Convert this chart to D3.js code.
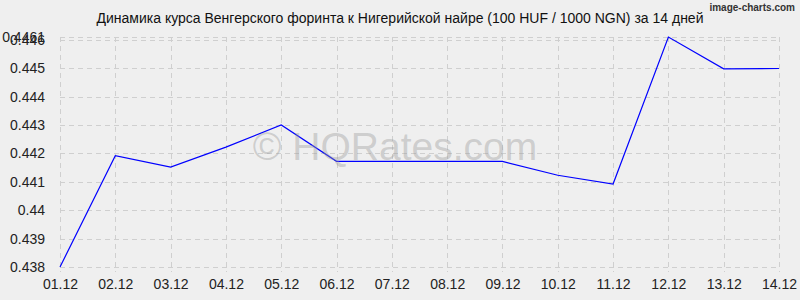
<!DOCTYPE html>
<html>
<head>
<meta charset="utf-8">
<script src="https://cdn.jsdelivr.net/npm/d3@7"></script>
<style>
  body { margin: 0; background: #efefef; }
  text { font-family: "Liberation Sans", Arial, sans-serif; }
</style>
</head>
<body>
<div id="chart"></div>
<script>
var width = 800,
    height = 300;

var dates = ["01.12", "02.12", "03.12", "04.12", "05.12", "06.12", "07.12",
             "08.12", "09.12", "10.12", "11.12", "12.12", "13.12", "14.12"];
var rates = [0.4380, 0.44192, 0.44152, 0.44222, 0.4430, 0.44172, 0.44172,
             0.44172, 0.44172, 0.44123, 0.44092, 0.4461, 0.44498, 0.44499];
var yTicks = [0.438, 0.439, 0.44, 0.441, 0.442, 0.443, 0.444, 0.445, 0.446, 0.4461];

var margin = {top: 37, right: 21, bottom: 33, left: 60};

var svg = d3.select("#chart").append("svg")
    .attr("width", width)
    .attr("height", height);

svg.append("rect")
    .attr("width", width)
    .attr("height", height)
    .attr("fill", "#efefef");

var x = d3.scalePoint()
    .domain(dates)
    .range([margin.left, width - margin.right]);

var y = d3.scaleLinear()
    .domain([0.438, 0.4461])
    .range([height - margin.bottom, margin.top]);

// grid
var grid = svg.append("g").attr("class", "grid");

grid.selectAll("line.h")
    .data(yTicks)
    .enter()
    .append("line")
    .attr("x1", margin.left)
    .attr("x2", width - margin.right)
    .attr("y1", function(d) { return Math.round(y(d)) + 0.5; })
    .attr("y2", function(d) { return Math.round(y(d)) + 0.5; })
    .attr("stroke", "#cfcfcf")
    .attr("stroke-dasharray", "5,4");

grid.selectAll("line.v")
    .data(dates)
    .enter()
    .append("line")
    .attr("x1", function(d) { return Math.round(x(d)) + 0.5; })
    .attr("x2", function(d) { return Math.round(x(d)) + 0.5; })
    .attr("y1", margin.top)
    .attr("y2", height - margin.bottom + 5)
    .attr("stroke", "#cfcfcf")
    .attr("stroke-dasharray", "5,4");

// axes
var yAxis = svg.append("g")
    .attr("transform", "translate(" + (margin.left - 12) + ",0)")
    .call(d3.axisLeft(y).tickValues(yTicks).tickSize(0).tickFormat(function(d) { return String(+d.toFixed(4)); }));
yAxis.select(".domain").remove();
yAxis.selectAll("text")
    .attr("font-size", 14)
    .attr("fill", "#222")
    .attr("font-family", "'Liberation Sans', Arial, sans-serif");

var xAxis = svg.append("g")
    .attr("transform", "translate(0," + (height - margin.bottom + 9) + ")")
    .call(d3.axisBottom(x).tickSize(0));
xAxis.select(".domain").remove();
xAxis.selectAll("text")
    .attr("font-size", 14)
    .attr("fill", "#222")
    .attr("font-family", "'Liberation Sans', Arial, sans-serif");

// line
var line = d3.line()
    .x(function(d, i) { return x(dates[i]); })
    .y(function(d) { return y(d); });

svg.append("path")
    .datum(rates)
    .attr("d", line)
    .attr("fill", "none")
    .attr("stroke", "#0000ff")
    .attr("stroke-width", 1.2);

// watermark
svg.append("text")
    .attr("x", 395)
    .attr("y", 160)
    .attr("text-anchor", "middle")
    .attr("font-family", "'DejaVu Sans', Verdana, sans-serif")
    .attr("font-size", 39)
    .attr("fill", "#999")
    .attr("fill-opacity", 0.4)
    .text("© HQRates.com");

// title
svg.append("text")
    .attr("x", 400)
    .attr("y", 23)
    .attr("text-anchor", "middle")
    .attr("font-size", 14)
    .attr("fill", "#111")
    .text("Динамика курса Венгерского форинта к Нигерийской найре (100 HUF / 1000 NGN) за 14 дней");

svg.append("text")
    .attr("x", 795)
    .attr("y", 11)
    .attr("text-anchor", "end")
    .attr("font-family", "'DejaVu Sans Mono', monospace")
    .attr("font-size", 10)
    .attr("font-weight", "bold")
    .attr("fill", "#333")
    .text("image-charts.com");
</script>
</body>
</html>
